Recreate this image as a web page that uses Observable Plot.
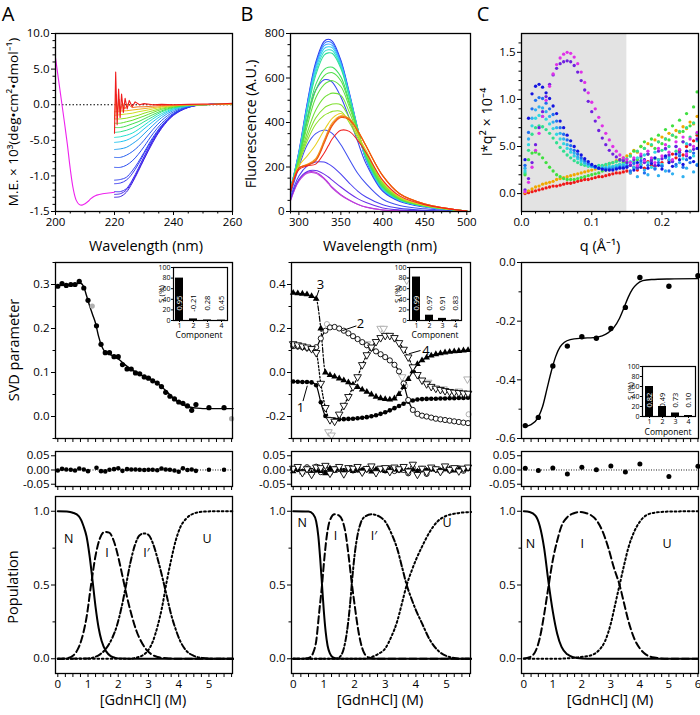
<!DOCTYPE html>
<html><head><meta charset="utf-8">
<script src="https://cdn.jsdelivr.net/npm/d3@7"></script>
<script src="https://cdn.jsdelivr.net/npm/@observablehq/plot@0.6"></script>
<style>
html,body{margin:0;padding:0;background:#fff;}
#root{position:relative;width:700px;height:715px;overflow:hidden;font-family:'Open Sans',sans-serif;color:#000;}
.t{position:absolute;white-space:nowrap;line-height:1.2;transform:translate(-50%,-50%);}
.big{line-height:1;}
svg text{opacity:0.999;}
</style></head><body><div id="root"></div>
<script>
// ================= DATA =================
// --- A top: CD spectra ---
const magWl = [200,201,202,203,204,205,206,207,208,209,210,211,212,213,214,216,218,220];
const magV  = [6.6,3.6,0.6,-2.4,-5.5,-9.0,-11.8,-13.4,-14.0,-14.1,-13.9,-13.6,-13.2,-12.9,-12.7,-12.5,-12.4,-12.3];
const cdWl = [220,222,224,226,228,230,233,236,240,245,250,255,260];
const cdColors = ["#3a1ee0","#4422e8","#3a2af0","#3535f0","#3040f0","#2a4cf0","#2860f0","#20a0f0","#20c4f0","#20e0d0","#30e090","#40e050","#60e030","#90e020","#d0e020","#f0b020"];
const cdCurves = [
 [-13.0,-12.9,-12.3,-11.0,-9.4,-7.7,-5.3,-3.3,-1.5,-0.4,0,0.05,0.1],
 [-12.6,-12.5,-12.0,-10.8,-9.2,-7.5,-5.1,-3.2,-1.4,-0.35,0,0.05,0.1],
 [-12.2,-12.2,-11.8,-10.6,-9.0,-7.3,-5.0,-3.1,-1.4,-0.35,0,0.05,0.1],
 [-11.1,-11.0,-10.6,-9.7,-8.4,-6.9,-4.8,-3.0,-1.35,-0.35,0,0.05,0.1],
 [-10.6,-10.5,-10.2,-9.3,-8.1,-6.7,-4.6,-2.9,-1.3,-0.3,0,0.05,0.1],
 [-8.8,-8.8,-8.5,-7.9,-7.0,-5.9,-4.1,-2.6,-1.2,-0.3,0,0.05,0.1],
 [-7.4,-7.4,-7.1,-6.6,-5.9,-5.0,-3.5,-2.2,-1.0,-0.25,0,0.05,0.1],
 [-6.3,-6.2,-6.0,-5.5,-4.9,-4.1,-2.9,-1.8,-0.8,-0.2,0,0.05,0.1],
 [-5.3,-5.2,-5.0,-4.6,-4.1,-3.4,-2.4,-1.5,-0.65,-0.15,0,0.05,0.1],
 [-4.6,-4.5,-4.3,-4.0,-3.5,-2.9,-2.0,-1.25,-0.55,-0.12,0,0.05,0.1],
 [-3.9,-3.8,-3.6,-3.3,-2.9,-2.4,-1.7,-1.0,-0.45,-0.1,0,0.05,0.1],
 [-3.2,-3.2,-3.0,-2.7,-2.4,-2.0,-1.4,-0.85,-0.35,-0.08,0,0.05,0.1],
 [-2.6,-2.6,-2.4,-2.2,-1.9,-1.6,-1.1,-0.65,-0.28,-0.05,0,0.05,0.1],
 [-2.0,-2.0,-1.9,-1.7,-1.5,-1.2,-0.85,-0.5,-0.2,-0.03,0,0.05,0.1],
 [-1.5,-1.4,-1.3,-1.2,-1.0,-0.85,-0.6,-0.35,-0.15,-0.02,0,0.05,0.1],
 [-1.0,-0.9,-0.85,-0.75,-0.65,-0.55,-0.4,-0.25,-0.1,0,0,0.05,0.1]
];
const cdOrWl = [220,220.5,221,221.5,222,222.7,223.5,224.5,226,228,230,233,236,240,245,250,255,260];
const cdOrV  = [-2.0,1.5,-1.5,0.8,-1.0,0.3,-0.6,0.1,-0.4,-0.3,-0.3,-0.2,-0.1,-0.05,0,0,0.05,0.1];
const cdRedWl = [220,220.4,220.9,221.4,221.9,222.4,223,223.6,224.3,225,226,227,228.5,230,233,236,240,245,250,255,260];
const cdRedV  = [-4.0,4.6,-2.8,2.2,-1.8,1.5,-1.1,0.9,-0.6,0.6,-0.3,0.4,0.0,0.15,0,0.05,0,0.05,0.1,0.1,0.2];

// --- B top: fluorescence spectra ---
const flWl = [290,300,310,320,330,335,340,350,360,370,380,400,420,450,500];
const flColors = ["#b030e0","#c040d8","#6a30e8","#4a40f0","#4050f0","#3848f0","#2838f0","#3070ff","#40a8ff","#30d0f0","#30e0c8","#30e098","#40e060","#50e048","#60e040","#70e038","#80e030","#90e028","#e8d020","#f0a020","#f07818","#f05010","#f02020"];
const flCurves = [
 [50,140,176,176,150,130,108,76,52,33,20,7,3,1,0],
 [48,136,172,172,146,126,104,73,50,32,19,7,3,1,0],
 [55,145,180,184,168,155,140,110,82,58,40,16,7,3,0],
 [65,160,205,222,222,214,202,168,128,92,65,30,14,6,0],
 [78,200,300,350,366,362,350,300,235,172,125,55,27,12,0],
 [95,235,420,545,592,592,580,515,420,315,215,90,45,20,1],
 [100,270,490,670,765,774,765,680,535,375,232,95,48,22,2],
 [100,266,483,660,755,764,756,673,530,372,234,96,49,22,2],
 [100,262,476,650,745,753,746,666,526,370,236,98,50,23,2],
 [100,258,468,638,732,740,735,658,522,370,238,100,51,23,2],
 [100,255,460,625,718,727,723,650,518,370,241,102,52,24,2],
 [100,250,450,612,703,713,710,643,515,372,245,105,53,24,2],
 [100,240,420,570,638,648,648,605,495,368,250,110,55,25,2],
 [100,235,405,545,610,622,624,588,485,364,252,112,56,25,2],
 [100,230,385,510,570,583,588,562,470,360,255,115,57,26,2],
 [100,225,355,455,512,525,532,522,447,352,258,120,59,26,2],
 [100,220,335,420,465,476,483,480,420,340,262,125,61,27,2],
 [100,215,318,392,432,442,450,450,400,330,265,128,62,27,2],
 [97,205,250,300,365,395,420,440,408,345,275,135,65,28,2],
 [95,195,212,238,320,365,400,430,418,365,295,160,80,34,2],
 [95,195,210,232,312,357,393,427,416,364,295,160,80,34,2],
 [95,195,208,228,305,350,387,422,412,362,294,160,80,34,2],
 [85,188,205,213,262,295,328,365,360,320,265,140,70,30,2]
];

// --- C top: SAXS Kratky ---
const qv = [0.005,0.01,0.015,0.02,0.025,0.03,0.035,0.04,0.045,0.05,0.055,0.06,0.065,0.07,0.075,0.08,0.085,0.09,0.095,0.1,0.105,0.11,0.115,0.12,0.125,0.13,0.135,0.14,0.145,0.15,0.155,0.16,0.165,0.17,0.175,0.18,0.185,0.19,0.195,0.2,0.205,0.21,0.215,0.22,0.225,0.23,0.235,0.24,0.245,0.25];
const shadeQ = [0, 0.15];
const saxsColors = ["#f01818","#f0a800","#40e040","#30e090","#30d8e0","#30b0f0","#2070f0","#1414e0","#7020e0","#e030e8"];
const saxsSeries = [
 [.00,.01,.02,.03,.04,.05,.06,.07,.08,.08, .09,.10,.11,.11,.12,.13,.14,.15,.15,.16, .17,.18,.18,.19,.20,.21,.22,.22,.23,.24, .22,.28,.25,.31,.27,.34,.30,.29,.36,.33, .39,.35,.42,.38,.46,.41,.50,.45,.56,.62],
 [.01,.03,.05,.07,.08,.10,.11,.12,.13,.15, .16,.17,.18,.19,.20,.21,.22,.23,.24,.25, .26,.27,.29,.30,.32,.33,.35,.36,.38,.40, .42,.46,.44,.50,.48,.53,.51,.57,.55,.60, .58,.64,.62,.67,.65,.71,.69,.76,.74,.82],
 [.20,.36,.43,.44,.42,.38,.33,.28,.24,.20, .18,.16,.15,.15,.15,.16,.17,.18,.19,.20, .21,.22,.24,.25,.27,.28,.30,.31,.33,.34, .40,.45,.36,.50,.55,.42,.58,.48,.62,.53, .68,.57,.72,.60,.78,.66,.85,.72,.92,1.08],
 [.22,.46,.63,.70,.72,.71,.68,.64,.59,.54, .49,.45,.41,.38,.35,.33,.31,.30,.29,.29, .29,.30,.30,.31,.32,.33,.34,.35,.36,.37, .40,.34,.45,.38,.48,.42,.52,.37,.55,.46, .58,.50,.62,.45,.66,.55,.70,.60,.75,.64],
 [.24,.52,.72,.80,.83,.82,.79,.74,.69,.63, .58,.53,.48,.44,.40,.37,.34,.32,.30,.29, .28,.28,.28,.28,.29,.29,.30,.31,.31,.32, .34,.27,.38,.30,.41,.33,.28,.44,.36,.31, .47,.39,.34,.50,.42,.37,.53,.45,.40,.56],
 [.27,.58,.80,.89,.92,.91,.87,.82,.76,.70, .64,.58,.52,.47,.43,.39,.36,.33,.31,.29, .28,.27,.27,.27,.27,.28,.28,.29,.30,.30, .22,.28,.18,.33,.25,.20,.35,.27,.19,.30, .24,.36,.21,.29,.33,.18,.27,.38,.23,.31],
 [.30,.65,.90,.99,1.02,1.01,.96,.90,.84,.77, .70,.63,.57,.51,.46,.42,.38,.35,.32,.30, .28,.27,.26,.26,.26,.26,.27,.28,.28,.29, .24,.32,.27,.35,.22,.30,.36,.26,.33,.29, .38,.24,.35,.31,.40,.28,.36,.33,.43,.30],
 [.36,.80,1.06,1.14,1.16,1.13,1.07,1.01,.93,.85, .77,.70,.62,.56,.50,.45,.41,.37,.34,.31, .29,.27,.26,.25,.25,.25,.26,.27,.27,.28, .30,.25,.33,.28,.36,.27,.32,.38,.30,.26, .40,.33,.29,.42,.36,.31,.45,.38,.34,.48],
 [.04,.16,.33,.52,.70,.87,1.03,1.16,1.26,1.33, 1.38,1.40,1.41,1.40,1.36,1.29,1.20,1.10,.98,.87, .77,.67,.59,.52,.46,.42,.39,.36,.35,.33, .30,.36,.28,.40,.33,.42,.35,.30,.45,.37, .48,.41,.34,.50,.44,.55,.40,.52,.47,.58],
 [.02,.12,.28,.46,.64,.82,.99,1.14,1.27,1.37, 1.44,1.48,1.50,1.49,1.45,1.38,1.29,1.18,1.07,.97, .90,.81,.72,.64,.57,.50,.45,.41,.38,.36, .33,.38,.30,.42,.35,.45,.38,.33,.48,.40, .52,.44,.36,.55,.47,.60,.42,.58,.50,.65]
];

// --- A middle: SVD ---
const svdAx = [0,0.14,0.28,0.43,0.57,0.71,0.86,1.0,1.28,1.43,1.57,1.71,1.86,2.0,2.14,2.29,2.43,2.57,2.71,2.86,3.0,3.14,3.29,3.43,3.57,3.71,3.86,4.0,4.14,4.29,4.43,4.57,5.0,5.5];
const svdAy = [0.296,0.302,0.298,0.300,0.300,0.307,0.292,0.264,0.206,0.164,0.145,0.145,0.136,0.136,0.118,0.108,0.108,0.099,0.097,0.090,0.087,0.081,0.076,0.068,0.055,0.046,0.040,0.033,0.030,0.024,0.014,0.027,0.020,0.020];
const svdAgreyX = [1.14, 5.75];
const svdAgreyY = [0.251, -0.005];
const fitAx = [0,0.3,0.6,0.75,0.85,0.95,1.05,1.15,1.25,1.35,1.45,1.55,1.7,1.85,2.0,2.2,2.4,2.6,2.8,3.0,3.2,3.4,3.6,3.8,4.0,4.2,4.4,4.6,4.8,5.0,5.4,5.8];
const fitAy = [0.298,0.299,0.302,0.303,0.296,0.275,0.252,0.232,0.212,0.182,0.16,0.148,0.142,0.137,0.131,0.119,0.109,0.1,0.093,0.087,0.08,0.07,0.057,0.043,0.032,0.025,0.021,0.019,0.018,0.018,0.018,0.018];
const resA = [-0.002,0.004,0.002,0.001,-0.002,0.005,0.002,-0.004,0.008,-0.004,-0.005,0.001,0.003,0.006,-0.003,0.003,0.002,0.002,0.001,0.0,0.001,0.001,-0.001,0.005,0.002,0.001,-0.002,-0.006,0.006,0.0,0.002,-0.003,0.001,0.001];
const compN = [1,2,3,4];
const sA = [80,3,1,0.7];
const labA = ["0.95","-0.21","0.28","0.45"];

// --- B middle: SVD (4 components) ---
const xB = [0,0.15,0.3,0.45,0.6,0.75,0.9,1.05,1.2,1.35,1.5,1.65,1.8,1.95,2.1,2.25,2.4,2.55,2.7,2.85,3,3.15,3.3,3.45,3.6,3.75,3.9,4.05,4.2,4.35,4.5,4.65,4.8,4.95,5.1,5.25,5.4,5.55,5.7];
const vB1 = [-0.041,-0.042,-0.043,-0.043,-0.045,-0.058,-0.135,-0.198,-0.212,-0.214,-0.213,-0.212,-0.211,-0.21,-0.208,-0.206,-0.203,-0.199,-0.194,-0.188,-0.181,-0.172,-0.162,-0.152,-0.142,-0.133,-0.127,-0.123,-0.121,-0.12,-0.119,-0.119,-0.118,-0.118,-0.117,-0.117,-0.116,-0.116,-0.115];
const vB2 = [0.12,0.118,0.115,0.112,0.108,0.115,0.155,0.19,0.205,0.207,0.2,0.19,0.178,0.165,0.152,0.138,0.124,0.11,0.096,0.083,0.07,0.055,0.035,0.005,-0.05,-0.125,-0.17,-0.188,-0.196,-0.2,-0.205,-0.21,-0.213,-0.216,-0.219,-0.222,-0.225,-0.228,-0.23];
const vB3 = [0.362,0.36,0.358,0.355,0.347,0.335,0.2,0.0,-0.012,-0.019,-0.027,-0.036,-0.045,-0.055,-0.066,-0.078,-0.088,-0.1,-0.11,-0.117,-0.121,-0.123,-0.118,-0.098,-0.066,-0.03,0.005,0.038,0.055,0.068,0.077,0.083,0.087,0.091,0.094,0.096,0.098,0.1,0.102];
const vB4 = [0.13,0.125,0.12,0.115,0.108,0.09,-0.05,-0.16,-0.215,-0.222,-0.19,-0.15,-0.11,-0.065,-0.02,0.035,0.08,0.115,0.14,0.158,0.168,0.168,0.158,0.135,0.105,0.07,0.025,-0.01,-0.035,-0.052,-0.064,-0.072,-0.078,-0.083,-0.087,-0.09,-0.092,-0.094,-0.095];
const greyTriX = [1.15,1.25,2.4,2.85,2.95,3.7,3.55,4.4,4.9,5.4,5.68];
const greyTriY = [-0.27,-0.285,0.13,0.2,0.2,0.42,-0.02,-0.045,-0.075,-0.085,-0.03];
const greyCircX = [1.1,3.65,5.72];
const greyCircY = [0.22,-0.06,-0.19];
const rB1 = [0.002,0,-0.003,0.001,0,-0.002,0.003,-0.004,0.002,0,0.001,-0.001,0.002,0,-0.002,0.001,0.003,0,-0.001,0.002,0,-0.002,0.001,0.003,-0.001,0,0.002,-0.003,0.001,0,0.002,-0.001,0,0.003,-0.002,0.001,0,0.002,0.004];
const rB2 = [0.004,0.008,-0.006,0.01,-0.004,0.012,-0.008,0.006,-0.01,0.004,0.003,-0.005,0.006,-0.002,0.004,-0.006,0.002,0.005,-0.003,0.004,-0.002,0.006,-0.004,0.002,0,-0.012,0.008,-0.006,0.004,-0.014,0.006,0.002,-0.004,0.008,-0.002,0.004,0.006,-0.003,0.006];
const rB3 = [-0.005,0.003,-0.008,0.004,-0.01,0.002,-0.004,-0.012,0.006,-0.003,0.004,-0.006,0.002,-0.004,0.003,-0.002,0.004,-0.006,0.002,0,-0.004,0.003,0.001,-0.002,0.004,-0.003,0.002,-0.005,0.003,-0.002,0.004,0.001,-0.003,0.002,0.004,-0.002,0.003,0.001,0.005];
const rB4 = [0.006,0.012,-0.01,0.004,-0.016,0.01,0.008,0.016,-0.012,0.004,0.012,-0.014,0.008,0.006,0.012,-0.008,0.005,0.014,-0.01,0.006,0.008,-0.006,0.01,0.004,0.012,-0.004,0.02,-0.016,0.006,-0.008,0.01,0.004,-0.006,0.014,0.002,0.008,-0.004,0.006,0.01];
const sB = [82,10,4,1];
const labB = ["0.99","0.97","0.91","0.83"];
const compLabels = ["1","2","3","4"];
const compLabX = [0.24,2.19,0.89,4.33];
const compLabY = [-0.16,0.22,0.40,0.100];
const leadX1 = [0.32,1.6,0.74,3.77], leadY1 = [-0.13,0.19,0.335,0.085];
const leadX2 = [0.46,2.06,0.84,4.15], leadY2 = [-0.06,0.212,0.375,0.100];

// --- C middle: SVD ---
const svdCx = [0.05,0.5,1.0,1.5,2.0,2.5,3.0,3.5,4.0,5.0,6.0];
const svdCy = [-0.556,-0.528,-0.353,-0.285,-0.253,-0.258,-0.225,-0.153,-0.051,-0.081,-0.045];
const fitCx = [0,0.25,0.5,0.65,0.8,0.95,1.1,1.25,1.4,1.6,2.0,2.4,2.7,2.9,3.1,3.3,3.45,3.6,3.75,3.9,4.1,4.4,5.0,6.0];
const fitCy = [-0.56,-0.553,-0.527,-0.49,-0.43,-0.37,-0.32,-0.288,-0.272,-0.263,-0.258,-0.256,-0.25,-0.24,-0.222,-0.19,-0.155,-0.118,-0.09,-0.073,-0.062,-0.058,-0.056,-0.055];
const resC = [0.006,-0.002,0.007,-0.014,0.01,0.001,0.014,-0.007,0.021,-0.023,0.013];
const sC = [60,20,7,2];
const labC = ["0.82","0.49","0.73","0.10"];

// --- Populations (bottom row) ---
const popA = {
 N:  [[0,1],[0.3,0.998],[0.5,0.99],[0.7,0.965],[0.85,0.9],[0.95,0.83],[1.05,0.7],[1.15,0.53],[1.25,0.35],[1.35,0.21],[1.45,0.12],[1.6,0.05],[1.75,0.018],[1.9,0.006],[2.1,0.001],[2.4,0],[5.8,0]],
 I:  [[0,0],[0.3,0.004],[0.5,0.02],[0.65,0.06],[0.8,0.14],[0.95,0.28],[1.1,0.5],[1.25,0.7],[1.4,0.82],[1.55,0.86],[1.7,0.855],[1.85,0.8],[2.0,0.69],[2.15,0.55],[2.3,0.41],[2.45,0.29],[2.6,0.19],[2.75,0.12],[2.9,0.07],[3.1,0.03],[3.3,0.012],[3.6,0.003],[4,0],[5.8,0]],
 Ip: [[0,0],[1.0,0.002],[1.2,0.01],[1.4,0.03],[1.6,0.07],[1.8,0.14],[1.95,0.22],[2.1,0.34],[2.25,0.49],[2.4,0.65],[2.55,0.77],[2.7,0.835],[2.85,0.85],[3.0,0.84],[3.15,0.78],[3.3,0.68],[3.45,0.56],[3.6,0.43],[3.75,0.3],[3.9,0.2],[4.05,0.12],[4.25,0.055],[4.5,0.02],[4.8,0.005],[5.2,0],[5.8,0]],
 U:  [[0,0],[2.4,0],[2.6,0.008],[2.8,0.022],[3.0,0.06],[3.15,0.12],[3.3,0.22],[3.45,0.35],[3.6,0.52],[3.75,0.67],[3.9,0.8],[4.05,0.89],[4.25,0.95],[4.5,0.985],[4.8,0.997],[5.2,1],[5.8,1]]
};
const popB = {
 N:  [[0,1],[0.5,0.998],[0.65,0.98],[0.75,0.93],[0.82,0.83],[0.88,0.68],[0.94,0.5],[1.0,0.32],[1.06,0.18],[1.12,0.09],[1.2,0.035],[1.3,0.01],[1.45,0.002],[1.7,0],[5.8,0]],
 I:  [[0,0],[0.4,0.001],[0.55,0.01],[0.65,0.04],[0.75,0.12],[0.85,0.32],[0.94,0.5],[1.02,0.69],[1.1,0.84],[1.2,0.94],[1.35,0.98],[1.5,0.97],[1.6,0.94],[1.7,0.86],[1.8,0.71],[1.9,0.53],[2.0,0.37],[2.1,0.22],[2.2,0.11],[2.3,0.045],[2.4,0.015],[2.55,0.003],[2.8,0],[5.8,0]],
 Ip: [[0,0],[1.4,0],[1.55,0.02],[1.65,0.07],[1.75,0.18],[1.85,0.36],[1.92,0.53],[2.0,0.7],[2.1,0.84],[2.2,0.92],[2.35,0.965],[2.55,0.98],[2.8,0.965],[3.0,0.93],[3.2,0.85],[3.4,0.74],[3.55,0.62],[3.7,0.5],[3.85,0.41],[4.0,0.33],[4.2,0.24],[4.45,0.13],[4.75,0.05],[5.1,0.012],[5.5,0],[5.8,0]],
 U:  [[0,0],[2.3,0],[2.5,0.008],[2.75,0.03],[3.0,0.07],[3.2,0.15],[3.4,0.26],[3.55,0.38],[3.7,0.5],[3.85,0.59],[4.0,0.67],[4.2,0.76],[4.45,0.86],[4.7,0.93],[5.0,0.97],[5.3,0.985],[5.8,0.995]]
};
const popC = {
 N:  [[0,1.0],[0.2,0.995],[0.4,0.97],[0.55,0.9],[0.7,0.75],[0.85,0.52],[1.0,0.32],[1.15,0.17],[1.3,0.08],[1.5,0.03],[1.7,0.01],[2.0,0.002],[2.4,0],[6.0,0]],
 I:  [[0,0.002],[0.2,0.01],[0.4,0.05],[0.55,0.14],[0.7,0.3],[0.85,0.49],[1.0,0.67],[1.15,0.8],[1.3,0.9],[1.5,0.96],[1.7,0.985],[1.9,0.995],[2.1,0.99],[2.3,0.975],[2.5,0.94],[2.7,0.87],[2.9,0.76],[3.1,0.62],[3.3,0.5],[3.45,0.38],[3.6,0.26],[3.8,0.14],[4.0,0.07],[4.2,0.03],[4.5,0.008],[5.0,0],[6.0,0]],
 U:  [[0,0],[1.2,0],[1.5,0.003],[1.8,0.008],[2.1,0.015],[2.4,0.03],[2.6,0.06],[2.8,0.12],[3.0,0.24],[3.15,0.37],[3.3,0.5],[3.45,0.63],[3.6,0.75],[3.8,0.86],[4.0,0.93],[4.2,0.97],[4.5,0.99],[5.0,0.998],[6.0,1.0]]
};
const popLabA = {t:["N","I","I\u2032","U"], x:[0.36,1.63,2.93,4.94], y:[0.81,0.72,0.72,0.81]};
const popLabB = {t:["N","I","I\u2032","U"], x:[0.29,1.38,2.63,5.02], y:[0.92,0.83,0.83,0.92]};
const popLabC = {t:["N","I","U"], x:[0.23,2.01,4.94], y:[0.78,0.78,0.78]};

// --- tick values & labels ---
const cdYT = [-15,-10,-5,0,5,10], cdYL = ["-1.5","-1.0","-5.0","0.0","5.0","10.0"];
const cdYM = [-14,-13,-12,-11,-9,-8,-7,-6,-4,-3,-2,-1,1,2,3,4,6,7,8,9];
const cdXT = [200,220,240,260], cdXM = [205,210,215,225,230,235,245,250,255];
const flYT = [0,200,400,600,800], flYM = [50,100,150,250,300,350,450,500,550,650,700,750];
const flXT = [300,350,400,450,500], flXM = [290,310,320,330,340,360,370,380,390,410,420,430,440,460,470,480,490];
const sxYT = [0,0.5,1.0,1.5], sxYL = ["0.0","5.0","1.0","1.5"];
const sxYM = [0.1,0.2,0.3,0.4,0.6,0.7,0.8,0.9,1.1,1.2,1.3,1.4,1.6];
const sxXT = [0,0.1,0.2], sxXL = ["0.0","0.1","0.2"];
const sxXM = [0.02,0.04,0.06,0.08,0.12,0.14,0.16,0.18,0.22,0.24];
const gdnT = [0,0.25,0.5,0.75,1,1.25,1.5,1.75,2,2.25,2.5,2.75,3,3.25,3.5,3.75,4,4.25,4.5,4.75,5,5.25,5.5,5.75];
const gdnTC = [0,0.25,0.5,0.75,1,1.25,1.5,1.75,2,2.25,2.5,2.75,3,3.25,3.5,3.75,4,4.25,4.5,4.75,5,5.25,5.5,5.75,6];
const gdnL = [0,1,2,3,4,5,6];

// ================= DRAWING =================
const root = document.getElementById("root");
const FONT = "'Open Sans', sans-serif";
const lab = (ticks, labels) => d => { const i = ticks.indexOf(d); return i < 0 ? "" : labels[i]; };
const dash = d => String(d).replace("\u2212", "-");
const none = () => "";

function addPlot(frame, o) {
  const [L, T, R, B] = frame;
  const ml = o.ml ?? 40, mr = o.mr ?? 6, mt = o.mt ?? 6, mb = o.mb ?? 28;
  const svg = Plot.plot({
    width: R - L + ml + mr, height: B - T + mt + mb,
    marginLeft: ml, marginRight: mr, marginTop: mt, marginBottom: mb,
    x: o.x, y: o.y,
    style: {fontFamily: FONT, fontSize: (o.fs ?? 11.5) + "px", background: "transparent", overflow: "visible", color: "#000"},
    marks: o.marks.flat().filter(Boolean)
  });
  svg.style.position = "absolute";
  svg.style.left = (L - ml) + "px";
  svg.style.top = (T - mt) + "px";
  root.appendChild(svg);
}
function axes(o) {
  return [
    Plot.axisX({ticks: o.xt, tickSize: o.xs ?? 4, tickPadding: 2, label: null, tickFormat: o.xf || none}),
    o.xm ? Plot.axisX({ticks: o.xm, tickSize: 2.5, label: null, tickFormat: none}) : null,
    Plot.axisY({ticks: o.yt, tickSize: 4, tickPadding: 2, label: null, tickFormat: o.yf}),
    o.ym ? Plot.axisY({ticks: o.ym, tickSize: 2.5, label: null, tickFormat: none}) : null,
    Plot.frame({stroke: "#000", strokeWidth: 1.3})
  ];
}
function text(str, x, y, size, rot, cls) {
  const d = document.createElement("div");
  d.className = "t" + (cls ? " " + cls : "");
  d.textContent = str;
  d.style.left = x + "px"; d.style.top = y + "px"; d.style.fontSize = size + "px";
  if (rot) d.style.transform = "translate(-50%,-50%) rotate(-90deg)";
  root.appendChild(d);
}

// frames [left, top, right, bottom]
const F = {
  A1: [55,33,232,211], B1: [290,33,470,211], C1: [521,33,698,211],
  A2: [55,262,232,438], B2: [291,262,470,438], C2: [521,262,698,438],
  A3: [55,451,232,486], B3: [291,451,470,486], C3: [521,451,698,486],
  A4: [55,496,232,673], B4: [291,496,470,673], C4: [521,496,698,673]
};
const XD = {A: [-0.076, 5.78], B: [-0.055, 5.78], C: [-0.08, 6.02]};

// ---- Row 1 A: CD ----
addPlot(F.A1, {
  x: {domain: [200, 260]}, y: {domain: [-15, 10]},
  marks: [
    Plot.ruleY([0], {stroke: "#000", strokeWidth: 1.1, strokeDasharray: "1.5,2"}),
    cdCurves.map((v, k) => Plot.line(cdWl, {x: cdWl, y: v, stroke: cdColors[k], strokeWidth: 1, curve: "catmull-rom"})),
    Plot.line(cdOrWl, {x: cdOrWl, y: cdOrV, stroke: "#f07020", strokeWidth: 1}),
    Plot.line(cdRedWl, {x: cdRedWl, y: cdRedV, stroke: "#f01c1c", strokeWidth: 1.1}),
    Plot.line(magWl, {x: magWl, y: magV, stroke: "#ee22ee", strokeWidth: 1.1, curve: "catmull-rom"}),
    axes({xt: cdXT, xm: cdXM, xf: String, yt: cdYT, ym: cdYM, yf: lab(cdYT, cdYL)})
  ]
});

// ---- Row 1 B: Fluorescence ----
addPlot(F.B1, {
  x: {domain: [290, 504.4]}, y: {domain: [0, 800]},
  marks: [
    flCurves.map((v, k) => Plot.line(flWl, {x: flWl, y: v, stroke: flColors[k], strokeWidth: 1.05, curve: "catmull-rom", clip: true})),
    axes({xt: flXT, xm: flXM, xf: String, yt: flYT, ym: flYM, yf: String})
  ]
});

// ---- Row 1 C: SAXS ----
addPlot(F.C1, {
  x: {domain: [0, 0.252]}, y: {domain: [-0.19, 1.70]},
  marks: [
    Plot.rect([shadeQ], {x1: d => d[0], x2: d => d[1], fill: "#e3e3e3"}),
    saxsSeries.map((v, k) => Plot.dot(qv, {x: qv, y: v, r: 1.65, fill: saxsColors[k], stroke: "none"})),
    axes({xt: sxXT, xm: sxXM, xf: lab(sxXT, sxXL), yt: sxYT, ym: sxYM, yf: lab(sxYT, sxYL)})
  ]
});

// ---- Row 2 A ----
addPlot(F.A2, {
  x: {domain: XD.A}, y: {domain: [-0.05, 0.35]},
  marks: [
    Plot.line(fitAx, {x: fitAx, y: fitAy, stroke: "#000", strokeWidth: 1.4, curve: "monotone-x"}),
    Plot.dot(svdAx, {x: svdAx, y: svdAy, r: 2.6, fill: "#000"}),
    Plot.dot(svdAgreyX, {x: svdAgreyX, y: svdAgreyY, r: 2.6, fill: "#b0b0b0"}),
    axes({xt: gdnT, yt: [0, 0.1, 0.2, 0.3], ym: [-0.05, 0.05, 0.15, 0.25, 0.35], yf: d => d.toFixed(1)})
  ]
});
// ---- Row 2 B ----
addPlot(F.B2, {
  x: {domain: XD.B}, y: {domain: [-0.3, 0.5]},
  marks: [
    Plot.line(xB, {x: xB, y: vB1, stroke: "#000", strokeWidth: 1.2, curve: "monotone-x"}),
    Plot.line(xB, {x: xB, y: vB2, stroke: "#000", strokeWidth: 1.2, curve: "monotone-x"}),
    Plot.line(xB, {x: xB, y: vB3, stroke: "#000", strokeWidth: 1.2, strokeDasharray: "5,2,1.5,2", curve: "monotone-x"}),
    Plot.line(xB, {x: xB, y: vB4, stroke: "#000", strokeWidth: 1.3, strokeDasharray: "1.5,2", curve: "monotone-x"}),
    Plot.dot(greyTriX, {x: greyTriX, y: greyTriY, symbol: "triangle", rotate: 180, r: 2.8, fill: "#fff", stroke: "#a8a8a8", strokeWidth: 0.9}),
    Plot.dot(greyCircX, {x: greyCircX, y: greyCircY, r: 2.6, fill: "#fff", stroke: "#a8a8a8", strokeWidth: 0.9}),
    Plot.dot(xB, {x: xB, y: vB1, r: 2.3, fill: "#000"}),
    Plot.dot(xB, {x: xB, y: vB2, r: 2.6, fill: "#fff", stroke: "#000", strokeWidth: 0.9}),
    Plot.dot(xB, {x: xB, y: vB3, symbol: "triangle", r: 2.5, fill: "#000"}),
    Plot.dot(xB, {x: xB, y: vB4, symbol: "triangle", rotate: 180, r: 2.8, fill: "#fff", stroke: "#000", strokeWidth: 0.9}),
    Plot.link(compLabels, {x1: leadX1, y1: leadY1, x2: leadX2, y2: leadY2, stroke: "#000", strokeWidth: 1}),
    Plot.text(compLabels, {x: compLabX, y: compLabY, text: compLabels, fontSize: 13, fill: "#000"}),
    axes({xt: gdnT, yt: [-0.2, 0, 0.2, 0.4], ym: [-0.3, -0.1, 0.1, 0.3, 0.5], yf: d => dash(d.toFixed(1))})
  ]
});
// ---- Row 2 C ----
addPlot(F.C2, {
  x: {domain: XD.C}, y: {domain: [-0.6, 0.0]},
  marks: [
    Plot.line(fitCx, {x: fitCx, y: fitCy, stroke: "#000", strokeWidth: 1.4, curve: "monotone-x"}),
    Plot.dot(svdCx, {x: svdCx, y: svdCy, r: 2.7, fill: "#000"}),
    axes({xt: gdnTC, yt: [-0.6, -0.4, -0.2, 0], ym: [-0.5, -0.3, -0.1], yf: d => dash(d.toFixed(1))})
  ]
});

// ---- Insets ----
function inset(frame, s, labs) {
  const rows = compN.map((c, i) => ({c, s: s[i], lab: labs[i]}));
  addPlot(frame, {
    ml: 16, mr: 2, mt: 4, mb: 12, fs: 7,
    x: {type: "band", domain: compN, paddingInner: 0.4, paddingOuter: 0.12},
    y: {domain: [0, 100]},
    marks: [
      Plot.frame({fill: "#fff", stroke: null}),
      Plot.barY(rows, {x: "c", y: "s", fill: "#000"}),
      Plot.text(rows.slice(0, 1), {x: "c", y: () => 33, text: "lab", rotate: -90, fill: "#fff", fontSize: 7.5}),
      Plot.text(rows.slice(1), {x: "c", y: () => 33, text: "lab", rotate: -90, fill: "#000", fontSize: 7.5}),
      Plot.frame({stroke: "#000", strokeWidth: 1.2}),
      Plot.axisX({tickSize: 2, tickPadding: 0.5, label: null, tickFormat: String}),
      Plot.axisY({ticks: [0, 20, 40, 60, 80, 100], tickSize: 2, tickPadding: 1, label: null, tickFormat: String})
    ]
  });
}
inset([173,267,227,320], sA, labA);
inset([409,267,461,320], sB, labB);
inset([642,366,695,416], sC, labC);

// ---- Row 3 residuals ----
const resAxes = (xt) => axes({xt, yt: [-0.05, 0, 0.05], yf: d => dash(d.toFixed(2))});
const zeroDot = Plot.ruleY([0], {stroke: "#000", strokeWidth: 0.9, strokeDasharray: "1,1.5"});
addPlot(F.A3, {
  x: {domain: XD.A}, y: {domain: [-0.058, 0.065]},
  marks: [zeroDot, Plot.dot(svdAx, {x: svdAx, y: resA, r: 2.3, fill: "#000"}), resAxes(gdnT)]
});
addPlot(F.B3, {
  x: {domain: XD.B}, y: {domain: [-0.058, 0.065]},
  marks: [zeroDot,
    Plot.dot(xB, {x: xB, y: rB1, r: 2.2, fill: "#000"}),
    Plot.dot(xB, {x: xB, y: rB2, r: 2.5, fill: "#fff", stroke: "#000", strokeWidth: 0.9}),
    Plot.dot(xB, {x: xB, y: rB3, symbol: "triangle", r: 2.4, fill: "#000"}),
    Plot.dot(xB, {x: xB, y: rB4, symbol: "triangle", rotate: 180, r: 2.7, fill: "#fff", stroke: "#000", strokeWidth: 0.9}),
    resAxes(gdnT)]
});
addPlot(F.C3, {
  x: {domain: XD.C}, y: {domain: [-0.058, 0.065]},
  marks: [zeroDot, Plot.dot(svdCx, {x: svdCx, y: resC, r: 2.5, fill: "#000"}), resAxes(gdnTC)]
});

// ---- Row 4 populations ----
const dashes = {N: null, I: "7,3.5", Ip: "6,2.5,1.8,2.5", U: "1.8,2.6"};
function popPanel(frame, xd, pop, labs, xt) {
  addPlot(frame, {
    x: {domain: xd}, y: {domain: [-0.1, 1.1]},
    marks: [
      Object.keys(pop).map(k => Plot.line(pop[k], {x: d => d[0], y: d => d[1], stroke: "#000", strokeWidth: 2, curve: "monotone-x", ...(dashes[k] ? {strokeDasharray: dashes[k]} : {})})),
      Plot.text(labs.t, {x: labs.x, y: labs.y, text: labs.t, fontSize: 12.5, fill: "#000"}),
      axes({xt, xf: d => (gdnL.includes(d) ? String(d) : ""), yt: [0, 0.5, 1], ym: [0.25, 0.75], yf: d => d.toFixed(1)})
    ]
  });
}
popPanel(F.A4, XD.A, popA, popLabA, gdnT);
popPanel(F.B4, XD.B, popB, popLabB, gdnT);
popPanel(F.C4, XD.C, popC, popLabC, gdnTC);

// ---- Titles & labels (HTML text) ----
text("A", 8, 14, 20, false, "big"); text("B", 247, 14, 20, false, "big"); text("C", 483, 14, 20, false, "big");
text("M.E. \u00d7 10\u00b3(deg\u2022cm\u00b2\u2022dmol\u207b\u00b9)", 13, 122, 13.5, true);
text("Fluorescence (A.U.)", 251, 124, 14.5, true);
text("I*q\u00b2 \u00d7 10\u207b\u2074", 487, 122, 14.5, true);
text("Wavelength (nm)", 146, 246, 14.5);
text("Wavelength (nm)", 380, 246, 14.5);
text("q (\u00c5\u207b\u00b9)", 600, 246, 14.5);
text("SVD parameter", 14, 350, 14.5, true);
text("Population", 13, 587, 14.5, true);
text("[GdnHCl] (M)", 143, 700, 14.5);
text("[GdnHCl] (M)", 380, 700, 14.5);
text("[GdnHCl] (M)", 610, 700, 14.5);
text("Component", 199, 335, 8.5); text("S (%)", 161, 294, 8, true);
text("Component", 435, 335, 8.5); text("S (%)", 397, 294, 8, true);
text("Component", 668, 432, 8.5); text("S (%)", 630, 391, 8, true);
</script></body></html>
